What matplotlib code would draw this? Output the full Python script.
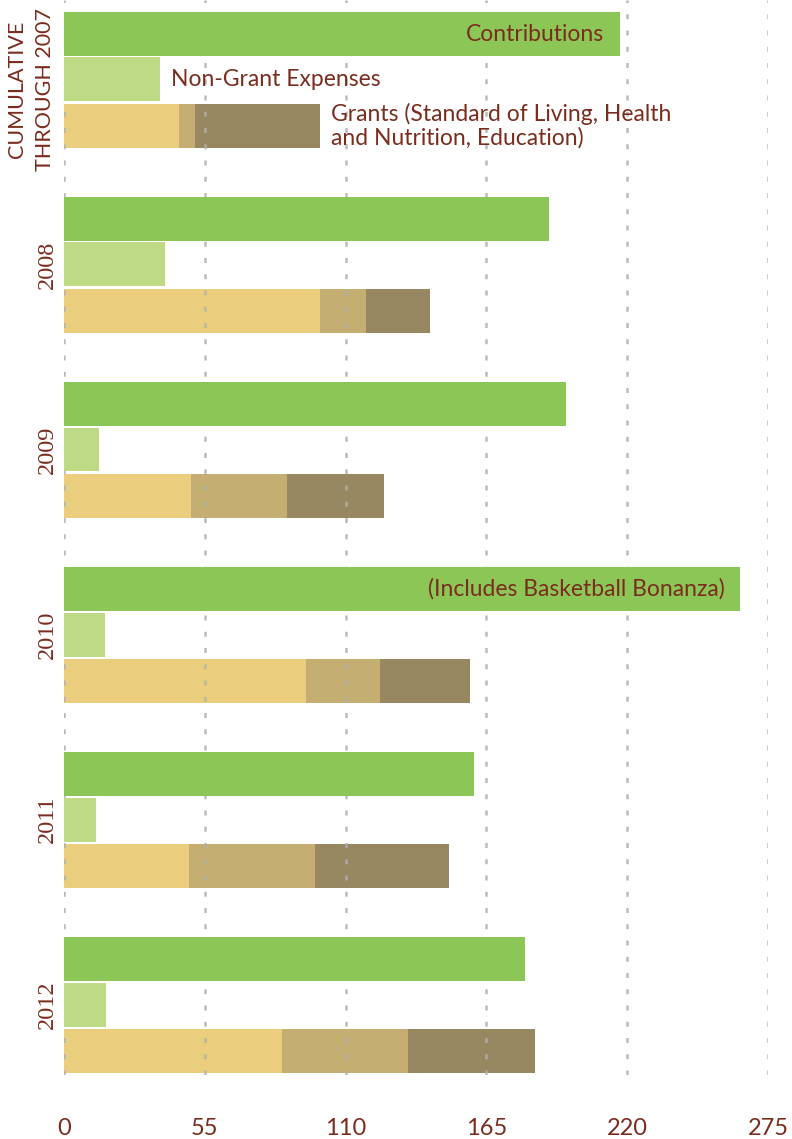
import matplotlib
matplotlib.use("Agg")
import matplotlib.pyplot as plt
import matplotlib.transforms as mtransforms
import numpy as np

plt.rcParams["font.serif"] = ["Liberation Serif", "DejaVu Serif"]

# ---- data ----
groups = ["CUMULATIVE\nTHROUGH 2007", "2008", "2009", "2010", "2011", "2012"]
contributions = [217, 189.5, 196, 264, 160, 180]
non_grant = [37.5, 39.5, 13.5, 16, 12.5, 16.5]
grants_living = [45, 100, 49.5, 94.5, 49, 85]
grants_health = [6, 18, 37.5, 29, 49, 49.5]
grants_education = [49, 25, 38, 35, 52.5, 49.5]
xticks = [0, 55, 110, 165, 220, 275]

TEXT = "#7a2d1e"
C_CONTRIB = "#8bc656"
C_NONGRANT = "#bfda85"
C_LIVING = "#eace7e"
C_HEALTH = "#c4ae72"
C_EDU = "#978862"
SANS = ["Lato", "DejaVu Sans"]

fig = plt.figure(figsize=(7.92, 11.39), dpi=100)
ax = fig.add_axes([64/792, 64/1139, 704/792, 1075/1139])

period = 4.0
h = 0.95
base = np.arange(len(groups)) * period
y_c = base
y_n = base + 0.98
y_g = base + 1.98

ax.barh(y_c, contributions, height=h, color=C_CONTRIB, zorder=3, linewidth=0)
ax.barh(y_n, non_grant, height=h, color=C_NONGRANT, zorder=3, linewidth=0)
left = np.zeros(len(groups))
for vals, col in [(grants_living, C_LIVING), (grants_health, C_HEALTH), (grants_education, C_EDU)]:
    ax.barh(y_g, vals, left=left, height=h, color=col, zorder=1, linewidth=0)
    left = left + np.array(vals)

for xv in xticks:
    ax.axvline(xv, color="#b0b0b0", lw=1.8, ls=(0, (2, 4.5)), zorder=2, alpha=0.85)

ax.set_xlim(0, 275)
ax.set_ylim(22.5, -0.735)
for s in ax.spines.values():
    s.set_visible(False)

ax.set_xticks(xticks)
ax.set_xticklabels([str(v) for v in xticks], fontsize=17, color=TEXT, family=SANS)
ax.tick_params(axis="x", length=0, pad=31)
ax.set_yticks([])

# group labels (rotated) left of axes
ytr = mtransforms.blended_transform_factory(fig.transFigure, ax.transData)
for i, g in enumerate(groups):
    if i == 0:
        ax.annotate(g, xy=(31/792, y_n[i]), xycoords=ytr, xytext=(0, -7),
                    textcoords="offset points", rotation=90, ha="center", va="center",
                    fontsize=15.5, color=TEXT, family=SANS, linespacing=1.45)
    else:
        ax.text(47/792, y_n[i], g, transform=ytr, rotation=90, ha="center", va="center",
                fontsize=17.5, color=TEXT, family="serif")

ax.annotate("Contributions", xy=(contributions[0], y_c[0]), xytext=(-11, 0),
            textcoords="offset points", ha="right", va="center", fontsize=16.5,
            color=TEXT, family=SANS, zorder=5)
ax.annotate("Non-Grant Expenses", xy=(non_grant[0], y_n[0]), xytext=(8, 0),
            textcoords="offset points", ha="left", va="center", fontsize=16.5,
            color=TEXT, family=SANS, zorder=5)
ax.annotate("Grants (Standard of Living, Health\nand Nutrition, Education)",
            xy=(left[0], y_g[0]), xytext=(8, 0),
            textcoords="offset points", ha="left", va="center", fontsize=16.5,
            color=TEXT, family=SANS, linespacing=1.1, zorder=5)
ax.annotate("(Includes Basketball Bonanza)", xy=(contributions[3], y_c[3]), xytext=(-11, 0),
            textcoords="offset points", ha="right", va="center", fontsize=16.5,
            color=TEXT, family=SANS, zorder=5)

fig.savefig("out.png", dpi=100)
